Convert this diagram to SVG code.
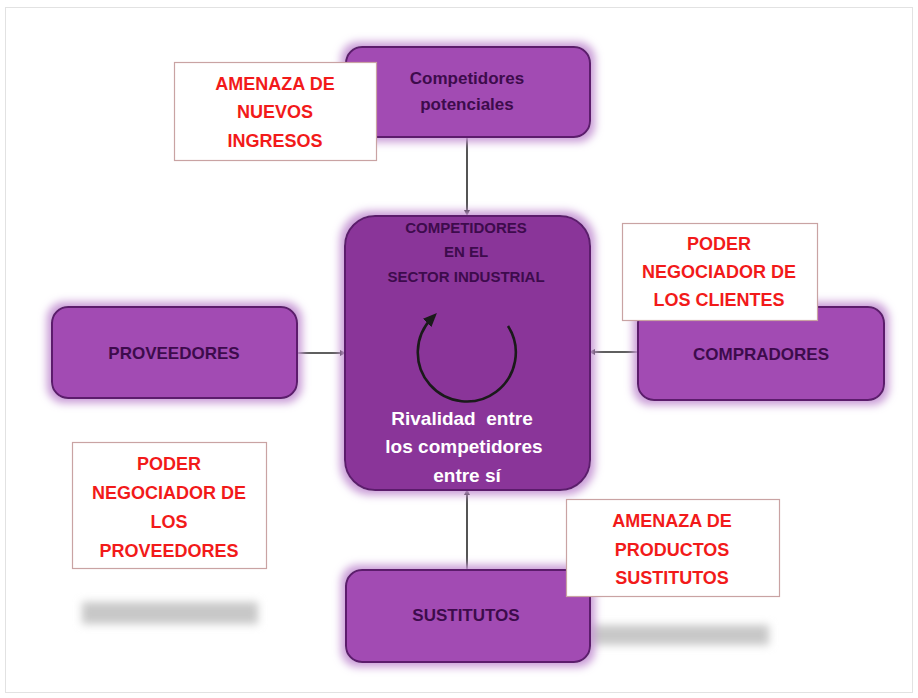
<svg xmlns="http://www.w3.org/2000/svg" width="918" height="698" viewBox="0 0 918 698">
<defs>
<style>
.box{fill:#a24cb3;stroke:#5b1f6c;stroke-width:2}
.center{fill:#8a3699;stroke:#5b1f6c;stroke-width:2}
.lbl{font-family:"Liberation Sans",Arial,sans-serif;font-weight:bold;fill:#3d0b4c;text-anchor:middle}
.red{fill:#ffffff;stroke:#c9a3a3;stroke-width:1.2}
.rt{font-family:"Liberation Sans",Arial,sans-serif;font-weight:bold;fill:#f21a1a;font-size:18px;text-anchor:middle}
.wt{font-family:"Liberation Sans",Arial,sans-serif;font-weight:bold;fill:#ffffff;font-size:19px;text-anchor:middle;white-space:pre}
.conn{stroke:#2a2a2a;stroke-width:1.6;fill:none}
</style>
<filter id="glow" x="-20%" y="-30%" width="140%" height="160%">
<feMorphology in="SourceAlpha" operator="dilate" radius="4" result="d"/>
<feGaussianBlur in="d" stdDeviation="4" result="b"/>
<feFlood flood-color="#c89ad6" result="c"/>
<feComposite in="c" in2="b" operator="in" result="g"/>
<feMerge><feMergeNode in="g"/><feMergeNode in="SourceGraphic"/></feMerge>
</filter>
<filter id="blur" x="-20%" y="-100%" width="140%" height="300%">
<feGaussianBlur stdDeviation="4"/>
</filter>
<marker id="dot" markerWidth="6" markerHeight="6" refX="3" refY="3" orient="auto" markerUnits="userSpaceOnUse">
<path d="M0,0 L6,3 L0,6 Z" fill="#222"/>
</marker>
<marker id="circ" markerWidth="14" markerHeight="14" refX="7" refY="7" orient="auto" markerUnits="userSpaceOnUse">
<path d="M0,1 L14,7 L0,13 Z" fill="#1a1a1a"/>
</marker>
</defs>
<rect x="0" y="0" width="918" height="698" fill="#ffffff"/>
<rect x="5.5" y="7.5" width="907" height="685" fill="#ffffff" stroke="#e2e2e2" stroke-width="1"/>

<g id="shadows" filter="url(#blur)">
<rect x="82" y="602" width="176" height="22" fill="#c8c8c8"/>
<rect x="577" y="625" width="192" height="20" fill="#c8c8c8"/>
</g>

<g id="connectors">
<line class="conn" x1="467" y1="137" x2="467" y2="213" marker-end="url(#dot)"/>
<line class="conn" x1="297" y1="353" x2="343" y2="353" marker-end="url(#dot)"/>
<line class="conn" x1="638" y1="352" x2="592" y2="352" marker-end="url(#dot)"/>
<line class="conn" x1="467" y1="570" x2="467" y2="492" marker-end="url(#dot)"/>
</g>

<g id="competidores-potenciales">
<rect class="box" x="346" y="47" width="244" height="90" rx="16" filter="url(#glow)"/>
<text class="lbl" x="467" y="84" font-size="17">Competidores</text>
<text class="lbl" x="467" y="110" font-size="17">potenciales</text>
</g>

<g id="sector-industrial">
<rect class="center" x="345" y="216" width="245" height="274" rx="30" filter="url(#glow)"/>
<text class="lbl" x="466" y="233" font-size="15">COMPETIDORES</text>
<text class="lbl" x="466" y="257" font-size="15">EN EL</text>
<text class="lbl" x="466" y="282" font-size="15">SECTOR INDUSTRIAL</text>
<path d="M508,326 A49,49 0 1 1 432,318" fill="none" stroke="#1a1a1a" stroke-width="2.6" marker-end="url(#circ)"/>
<text class="wt" x="462" y="425" xml:space="preserve">Rivalidad  entre</text>
<text class="wt" x="464" y="453">los competidores</text>
<text class="wt" x="467" y="482">entre sí</text>
</g>

<g id="proveedores">
<rect class="box" x="52" y="307" width="245" height="91" rx="16" filter="url(#glow)"/>
<text class="lbl" x="174" y="359" font-size="17">PROVEEDORES</text>
</g>

<g id="compradores">
<rect class="box" x="638" y="307" width="246" height="93" rx="16" filter="url(#glow)"/>
<text class="lbl" x="761" y="360" font-size="17">COMPRADORES</text>
</g>

<g id="sustitutos">
<rect class="box" x="346" y="570" width="244" height="92" rx="16" filter="url(#glow)"/>
<text class="lbl" x="466" y="621" font-size="17">SUSTITUTOS</text>
</g>

<g id="amenaza-nuevos">
<rect class="red" x="174.5" y="62.5" width="202" height="98"/>
<text class="rt" x="275" y="90">AMENAZA DE</text>
<text class="rt" x="275" y="118">NUEVOS</text>
<text class="rt" x="275" y="147">INGRESOS</text>
</g>

<g id="poder-clientes">
<rect class="red" x="622.5" y="223.5" width="195" height="97"/>
<text class="rt" x="719" y="250">PODER</text>
<text class="rt" x="719" y="278">NEGOCIADOR DE</text>
<text class="rt" x="719" y="306">LOS CLIENTES</text>
</g>

<g id="poder-proveedores">
<rect class="red" x="72.5" y="442.5" width="194" height="126"/>
<text class="rt" x="169" y="470">PODER</text>
<text class="rt" x="169" y="499">NEGOCIADOR DE</text>
<text class="rt" x="169" y="528">LOS</text>
<text class="rt" x="169" y="557">PROVEEDORES</text>
</g>

<g id="amenaza-sustitutos">
<rect class="red" x="566.5" y="499.5" width="213" height="97"/>
<text class="rt" x="672" y="527">AMENAZA DE</text>
<text class="rt" x="672" y="556">PRODUCTOS</text>
<text class="rt" x="672" y="584">SUSTITUTOS</text>
</g>
</svg>
